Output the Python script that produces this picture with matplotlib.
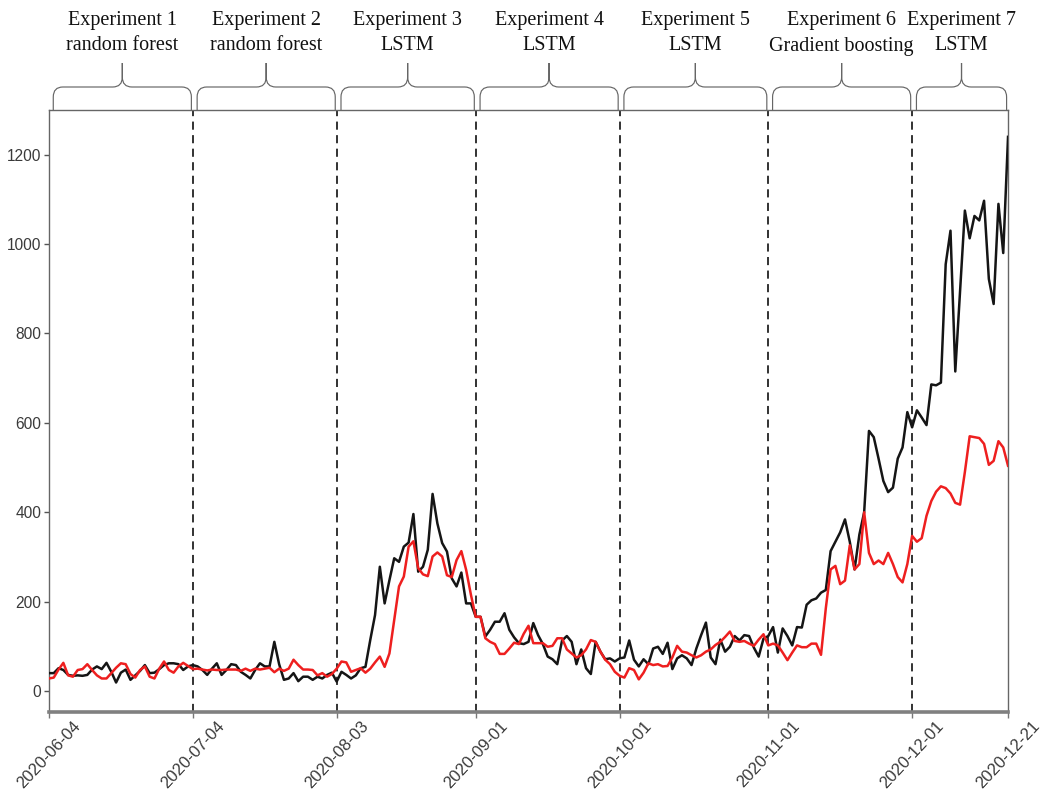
import numpy as np
import pandas as pd
import matplotlib.pyplot as plt
import matplotlib.dates as mdates
from matplotlib.path import Path
from matplotlib.patches import PathPatch
from matplotlib.transforms import blended_transform_factory

# daily counts, 2020-06-04 .. 2020-12-21
actual = [
    40, 40, 51, 47, 36, 34, 35, 34, 36, 48, 55, 49, 63, 43, 19, 41, 48, 25, 35, 45,
    58, 40, 41, 49, 58, 62, 62, 60, 47, 55, 58,
    55, 47, 36, 50, 62, 36, 47, 60, 58, 43, 36, 28, 47, 62, 55, 55, 110, 60, 25,
    28, 40, 22, 32, 32, 25, 32, 28, 36, 41,
    21, 43, 36, 28, 35, 51, 54, 114, 170, 278, 196, 248, 297, 289, 323, 332, 396, 267, 278, 316,
    441, 375, 331, 312, 252, 234, 265, 196, 196, 166, 166, 122, 137, 155, 155, 174, 137, 120, 107, 105,
    110, 152, 125, 105, 77,
    71, 60, 113, 123, 110, 60, 93, 51, 38, 110, 88, 71, 73, 66, 73, 75, 113, 70, 55, 71,
    60, 95, 99, 83, 108, 49, 73, 80, 73, 58, 95, 125, 153, 75, 60, 115, 88, 99, 123, 113,
    125, 123, 97,
    77, 117, 123, 143, 86, 140, 123, 102, 143, 142, 193, 203, 207, 220, 226, 313, 334, 355, 384, 334,
    272, 350, 400, 582, 568, 520, 470, 445, 455, 520, 545, 624, 590, 628, 612, 595, 686, 684, 690, 955,
    1030, 715, 893, 1075, 1013, 1063, 1053, 1097, 922, 866, 1090, 980, 1240,
]
predicted = [
    28, 30, 48, 63, 35, 32, 47, 49, 60, 47, 35, 28, 28, 40, 52, 62, 60, 38, 30, 47,
    55, 32, 28, 50, 66, 47, 41, 55, 63, 56, 49,
    50, 48, 46, 48, 47, 47, 48, 48, 48, 45, 50, 45, 50, 48, 50, 52, 42, 50, 45,
    50, 70, 58, 48, 48, 47, 35, 40, 32, 38,
    50, 66, 64, 43, 47, 51, 41, 50, 64, 77, 54, 84, 159, 234, 256, 323, 335, 275, 261, 257,
    301, 310, 301, 259, 255, 293, 313, 271, 215, 166, 166, 118, 110, 105, 83, 83, 95, 108, 105, 128,
    146, 107, 107, 107, 99,
    101, 118, 118, 93, 84, 75, 80, 93, 114, 110, 88, 70, 60, 43, 34, 30, 51, 47, 26, 41,
    62, 58, 60, 55, 56, 75, 101, 88, 86, 80, 75, 80, 88, 93, 103, 110, 121, 133, 112, 110,
    112, 106, 101,
    115, 127, 102, 106, 102, 86, 69, 86, 102, 98, 98, 106, 106, 81, 185, 272, 280, 239, 247, 326,
    272, 284, 400, 309, 284, 292, 284, 309, 284, 255, 243, 284, 347, 334, 342, 392, 425, 446, 458, 454,
    442, 421, 417, 490, 570, 568, 566, 553, 506, 515, 559, 545, 504,
]
dates = pd.date_range('2020-06-04', periods=len(actual), freq='D')

boundaries = ['2020-06-04', '2020-07-04', '2020-08-03', '2020-09-01',
              '2020-10-01', '2020-11-01', '2020-12-01', '2020-12-21']
experiments = ['Experiment 1\nrandom forest', 'Experiment 2\nrandom forest',
               'Experiment 3\nLSTM', 'Experiment 4\nLSTM', 'Experiment 5\nLSTM',
               'Experiment 6\nGradient boosting', 'Experiment 7\nLSTM']
yticks = [0, 200, 400, 600, 800, 1000, 1200]

fig = plt.figure(figsize=(10.46, 7.95), dpi=100)
ax = fig.add_axes([0.0468, 0.1044, 0.9169, 0.7572])

ax.plot(dates, actual, color='#151515', lw=1.8, zorder=3)
ax.plot(dates, predicted, color='#ee1f1f', lw=1.8, zorder=3)

bounds = pd.to_datetime(boundaries)
for b in bounds[1:-1]:
    ax.axvline(b, color='#222222', lw=1.3, ls=(0, (4.5, 3)), zorder=2)

ax.set_xlim(bounds[0], bounds[-1])
ax.set_ylim(-47, 1300)
ax.set_yticks(yticks)
ax.set_xticks(bounds)
ax.xaxis.set_major_formatter(mdates.DateFormatter('%Y-%m-%d'))

for lab in ax.get_yticklabels():
    lab.set_fontfamily('Liberation Sans')
for lab in ax.get_xticklabels():
    lab.set_fontfamily('Liberation Sans')
    lab.set_rotation(47)
    lab.set_ha('center')
    lab.set_va('top')
ax.tick_params(axis='y', labelsize=11.2, colors='#555555', labelcolor='#3a3a3a', length=3.5, width=1, pad=2)
ax.tick_params(axis='x', labelsize=12, colors='#777777', labelcolor='#3a3a3a', length=4, width=1, pad=0.5)

for side in ['left', 'right', 'top']:
    ax.spines[side].set_color('#666666')
    ax.spines[side].set_linewidth(1.0)
ax.spines['bottom'].set_color('#808080')
ax.spines['bottom'].set_linewidth(2.6)

# curly braces above each experiment
trans = blended_transform_factory(ax.transData, fig.transFigure)
y0, y1, y2 = 1 - 110 / 795, 1 - 87 / 795, 1 - 63 / 795
ry = 10 / 795
nums = mdates.date2num(bounds)
rx = 2.0
for i, text in enumerate(experiments):
    xa, xb = nums[i] + 0.9, nums[i + 1] - 0.3
    xm = (xa + xb) / 2
    verts, codes = [], []
    for xe, s in [(xa, 1), (xb, -1)]:
        verts += [(xe, y0), (xe, y1 - ry), (xe, y1), (xe + s * rx, y1),
                  (xm - s * rx, y1), (xm, y1), (xm, y1 + ry), (xm, y2)]
        codes += [Path.MOVETO, Path.LINETO, Path.CURVE3, Path.CURVE3,
                  Path.LINETO, Path.CURVE3, Path.CURVE3, Path.LINETO]
    ax.add_patch(PathPatch(Path(verts, codes), transform=trans, fill=False,
                           edgecolor='#666666', lw=0.85, clip_on=False))
    ax.text(xm, 1 - 33 / 795, text, transform=trans, ha='center', va='center',
            fontsize=14.5, family='Liberation Serif', linespacing=1.5, color='#111111')

fig.savefig('out.png', dpi=100)
